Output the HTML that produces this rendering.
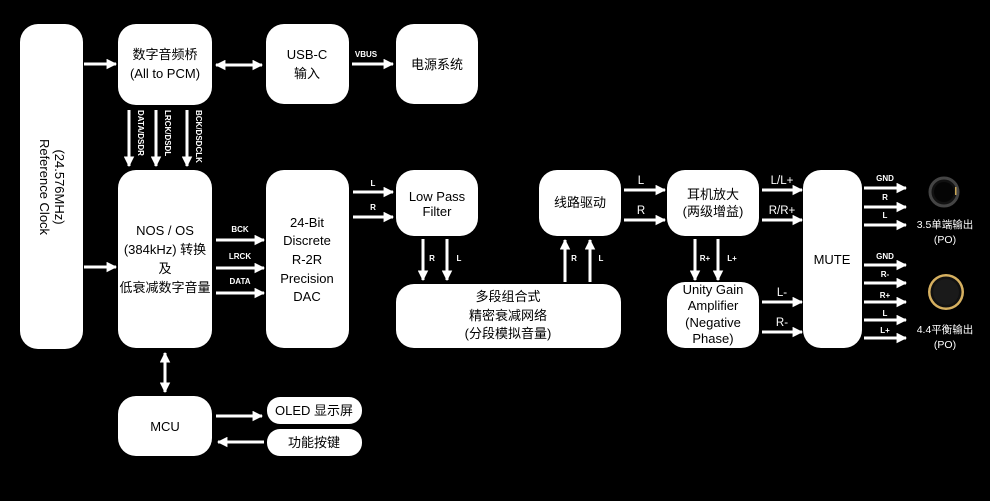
<!DOCTYPE html>
<html><head><meta charset="utf-8"><style>
html,body{margin:0;padding:0;background:#000;}
svg{display:block}
text{font-family:"Liberation Sans","Noto Sans CJK SC",sans-serif;fill:#000;text-anchor:middle}
.w{fill:#fff}
.s{font-size:8px;font-weight:bold;fill:#fff}
.m{font-size:11.5px;fill:#fff}
.b{font-size:13px}
</style></head><body>
<svg width="990" height="501" viewBox="0 0 990 501" xmlns="http://www.w3.org/2000/svg">
<defs>
<marker id="a" viewBox="0 0 10 10" refX="9" refY="5" markerWidth="3.5" markerHeight="3.5" orient="auto-start-reverse"><path d="M0,0L10,5L0,10z" fill="#fff"/></marker>
</defs>
<rect width="990" height="501" fill="#000"/>
<g class="w">
<rect x="20" y="24" width="63" height="325" rx="18"/>
<rect x="118" y="24" width="94" height="81" rx="18"/>
<rect x="266" y="24" width="83" height="80" rx="18"/>
<rect x="396" y="24" width="82" height="80" rx="18"/>
<rect x="118" y="170" width="94" height="178" rx="18"/>
<rect x="266" y="170" width="83" height="178" rx="18"/>
<rect x="396" y="170" width="82" height="66" rx="18"/>
<rect x="396" y="284" width="225" height="64" rx="18"/>
<rect x="539" y="170" width="82" height="66" rx="18"/>
<rect x="667" y="170" width="92" height="66" rx="18"/>
<rect x="667" y="282" width="92" height="66" rx="18"/>
<rect x="803" y="170" width="59" height="178" rx="18"/>
<rect x="118" y="396" width="94" height="60" rx="18"/>
<rect x="267" y="397" width="95" height="27" rx="13"/>
<rect x="267" y="429" width="95" height="27" rx="13"/>
</g>
<g stroke="#fff" stroke-width="3" marker-end="url(#a)">
<line x1="84" y1="64" x2="116" y2="64"/>
<line x1="84" y1="267" x2="116" y2="267"/>
<line x1="216" y1="65" x2="262" y2="65" marker-start="url(#a)"/>
<line x1="352" y1="64" x2="393" y2="64"/>
<line x1="129" y1="110" x2="129" y2="166"/>
<line x1="156" y1="110" x2="156" y2="166"/>
<line x1="187" y1="110" x2="187" y2="166"/>
<line x1="216" y1="240" x2="264" y2="240"/>
<line x1="216" y1="268" x2="264" y2="268"/>
<line x1="216" y1="293" x2="264" y2="293"/>
<line x1="353" y1="192" x2="393" y2="192"/>
<line x1="353" y1="217" x2="393" y2="217"/>
<line x1="423" y1="239" x2="423" y2="280"/>
<line x1="447" y1="239" x2="447" y2="280"/>
<line x1="565" y1="282" x2="565" y2="240"/>
<line x1="590" y1="282" x2="590" y2="240"/>
<line x1="624" y1="190" x2="665" y2="190"/>
<line x1="624" y1="220" x2="665" y2="220"/>
<line x1="762" y1="190" x2="802" y2="190"/>
<line x1="762" y1="220" x2="802" y2="220"/>
<line x1="695" y1="239" x2="695" y2="280"/>
<line x1="718" y1="239" x2="718" y2="280"/>
<line x1="762" y1="302" x2="802" y2="302"/>
<line x1="762" y1="332" x2="802" y2="332"/>
<line x1="864" y1="188" x2="906" y2="188"/>
<line x1="864" y1="207" x2="906" y2="207"/>
<line x1="864" y1="225" x2="906" y2="225"/>
<line x1="864" y1="265" x2="906" y2="265"/>
<line x1="864" y1="283" x2="906" y2="283"/>
<line x1="864" y1="302" x2="906" y2="302"/>
<line x1="864" y1="320" x2="906" y2="320"/>
<line x1="864" y1="338" x2="906" y2="338"/>
<line x1="165" y1="353" x2="165" y2="392" marker-start="url(#a)"/>
<line x1="216" y1="416" x2="262" y2="416"/>
<line x1="264" y1="442" x2="218" y2="442"/>
</g>
<circle cx="944" cy="192" r="14" fill="#111" stroke="#444" stroke-width="3"/>
<circle cx="944" cy="192" r="10" fill="#050505"/>
<rect x="955" y="187" width="1.5" height="8" fill="#c9a553"/>
<circle cx="946" cy="292" r="18" fill="#d6b060"/>
<circle cx="946" cy="292" r="15.5" fill="#111"/>
<circle cx="946" cy="292" r="13" fill="#1a1a1a"/>
<text class="b" transform="translate(52,187) rotate(90)" x="0" y="-3">(24.576MHz)</text>
<text class="b" transform="translate(52,187) rotate(90)" x="0" y="12">Reference Clock</text>
<text class="b" x="165" y="59">数字音频桥</text>
<text class="b" x="165" y="78">(All to PCM)</text>
<text class="b" x="307" y="59">USB-C</text>
<text class="b" x="307" y="78">输入</text>
<text class="b" x="437" y="69">电源系统</text>
<text class="b" x="165" y="235">NOS / OS</text>
<text class="b" x="165" y="254">(384kHz) 转换</text>
<text class="b" x="165" y="273">及</text>
<text class="b" x="165" y="292">低衰减数字音量</text>
<text class="b" x="307" y="227">24-Bit</text>
<text class="b" x="307" y="245">Discrete</text>
<text class="b" x="307" y="264">R-2R</text>
<text class="b" x="307" y="283">Precision</text>
<text class="b" x="307" y="301">DAC</text>
<text class="b" x="437" y="201">Low Pass</text>
<text class="b" x="437" y="216">Filter</text>
<text class="b" x="508" y="301">多段组合式</text>
<text class="b" x="508" y="320">精密衰减网络</text>
<text class="b" x="508" y="338">(分段模拟音量)</text>
<text class="b" x="580" y="207">线路驱动</text>
<text class="b" x="713" y="199">耳机放大</text>
<text class="b" x="713" y="216">(两级增益)</text>
<text class="b" x="713" y="294">Unity Gain</text>
<text class="b" x="713" y="310">Amplifier</text>
<text class="b" x="713" y="327">(Negative</text>
<text class="b" x="713" y="343">Phase)</text>
<text class="b" x="832" y="264">MUTE</text>
<text class="b" x="165" y="431">MCU</text>
<text class="b" x="314" y="415">OLED 显示屏</text>
<text class="b" x="314" y="447">功能按键</text>
<text class="s" transform="translate(138,110) rotate(90)" x="0" y="0" style="text-anchor:start">DATA/DSDR</text>
<text class="s" transform="translate(165,110) rotate(90)" x="0" y="0" style="text-anchor:start">LRCK/DSDL</text>
<text class="s" transform="translate(196,110) rotate(90)" x="0" y="0" style="text-anchor:start">BCK/DSDCLK</text>
<text class="s" x="366" y="57">VBUS</text>
<text class="s" x="240" y="232">BCK</text>
<text class="s" x="240" y="259">LRCK</text>
<text class="s" x="240" y="284">DATA</text>
<text class="s" x="373" y="186">L</text>
<text class="s" x="373" y="210">R</text>
<text class="s" x="432" y="261">R</text>
<text class="s" x="459" y="261">L</text>
<text class="s" x="574" y="261">R</text>
<text class="s" x="601" y="261">L</text>
<text class="m" x="641" y="184">L</text>
<text class="m" x="641" y="214">R</text>
<text class="m" x="782" y="184">L/L+</text>
<text class="m" x="782" y="214">R/R+</text>
<text class="s" x="705" y="261">R+</text>
<text class="s" x="732" y="261">L+</text>
<text class="m" x="782" y="296">L-</text>
<text class="m" x="782" y="326">R-</text>
<text class="s" x="885" y="181">GND</text>
<text class="s" x="885" y="200">R</text>
<text class="s" x="885" y="218">L</text>
<text class="s" x="885" y="259">GND</text>
<text class="s" x="885" y="277">R-</text>
<text class="s" x="885" y="298">R+</text>
<text class="s" x="885" y="316">L</text>
<text class="s" x="885" y="333">L+</text>
<text class="m" x="945" y="228" style="font-size:10.5px">3.5单端输出</text>
<text class="m" x="945" y="243" style="font-size:10.5px">(PO)</text>
<text class="m" x="945" y="333" style="font-size:10.5px">4.4平衡输出</text>
<text class="m" x="945" y="348" style="font-size:10.5px">(PO)</text>
</svg>
</body></html>
